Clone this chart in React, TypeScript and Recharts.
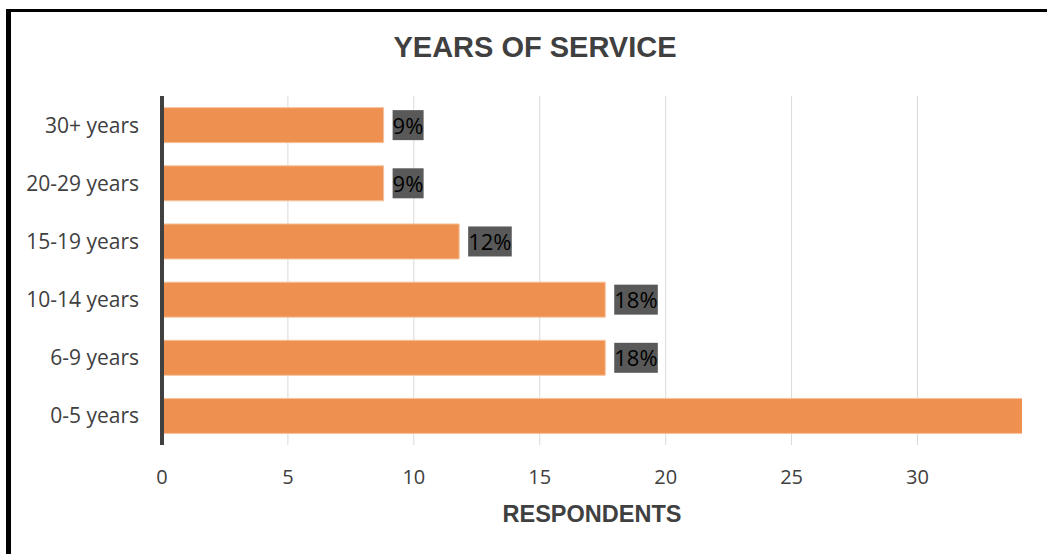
import { BarChart, Bar, XAxis, YAxis, CartesianGrid, LabelList } from "recharts";

// categories top to bottom, as drawn
const categories = ["30+ years", "20-29 years", "15-19 years", "10-14 years", "6-9 years", "0-5 years"];
// respondents (0-5 runs past the axis end and is cut off)
const respondents = [8.8, 8.8, 11.8, 17.6, 17.6, 35.3];
const xTicks = [0, 5, 10, 15, 20, 25, 30];
const xMax = 34.15;

const data = categories.map((name, i) => ({ name, value: respondents[i] }));

const FONT = "'Open Sans', sans-serif";
const TEXT = "#404040";

function PctLabel(props: any) {
  const { x, y, width, height, value } = props;
  if (value > xMax) return null;
  const txt = `${Math.round(value)}%`;
  const boxW = (txt.length - 1) * 12.6 + 18.4;
  const bx = x + width + 9;
  const cy = y + height / 2;
  return (
    <g>
      <rect x={bx} y={cy - 15} width={boxW} height={30} fill="#595959" />
      <text x={bx} y={cy + 8.5} fill="#000" fontSize={22} fontFamily={FONT}>
        {txt}
      </text>
    </g>
  );
}

export default function App() {
  return (
    <div style={{ position: "absolute", left: 0, top: 0, width: 1047, height: 554, background: "#fff", overflow: "hidden" }}>
      <div
        style={{
          position: "absolute",
          left: 6,
          top: 9,
          width: 1100,
          height: 600,
          borderTop: "3px solid #000",
          borderLeft: "5px solid #000",
        }}
      />
      <svg width={1047} height={80} style={{ position: "absolute", left: 0, top: 0 }}>
        <text x={535} y={57} textAnchor="middle" fontFamily="'Liberation Sans', Arial, sans-serif" fontWeight="bold" fontSize={29} fill={TEXT}>
          YEARS OF SERVICE
        </text>
      </svg>
      <div style={{ position: "absolute", left: 0, top: 0 }}>
        <BarChart
          width={1047}
          height={554}
          data={data}
          layout="vertical"
          margin={{ top: 96, right: 25, bottom: 0, left: 0 }}
          barCategoryGap="20%"
        >
          <CartesianGrid horizontal={false} verticalValues={xTicks} stroke="#D9D9D9" />
          <XAxis
            type="number"
            domain={[0, xMax]}
            allowDataOverflow
            ticks={xTicks}
            height={109}
            axisLine={false}
            tickLine={false}
            tickMargin={19}
            tick={{ fill: TEXT, fontSize: 20, fontFamily: FONT }}
            label={{
              value: "RESPONDENTS",
              position: "insideBottom",
              offset: 32,
              fill: TEXT,
              fontSize: 23.5,
              fontWeight: "bold",
              fontFamily: "'Liberation Sans', Arial, sans-serif",
            }}
          />
          <YAxis
            type="category"
            dataKey="name"
            width={162}
            axisLine={{ stroke: TEXT, strokeWidth: 4 }}
            tickLine={false}
            tickMargin={17}
            tick={{ fill: TEXT, fontSize: 21, fontFamily: FONT }}
          />
          <Bar dataKey="value" fill="#EE9150" stroke="#F7C29C" strokeWidth={1} isAnimationActive={false}>
            <LabelList dataKey="value" content={PctLabel} />
          </Bar>
        </BarChart>
      </div>
    </div>
  );
}
